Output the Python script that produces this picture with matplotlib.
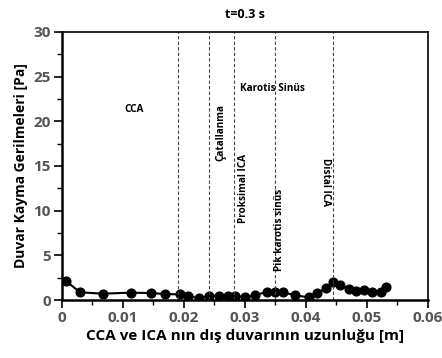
import matplotlib
matplotlib.use("Agg")
import matplotlib.pyplot as plt
from matplotlib.ticker import MultipleLocator

plt.rcParams['font.family'] = ['Open Sans', 'DejaVu Sans']

x = [0.0006, 0.0030, 0.0067, 0.0113, 0.0146, 0.0169, 0.0193, 0.0206, 0.0225,
     0.0241, 0.0257, 0.0273, 0.0284, 0.0301, 0.0317, 0.0336, 0.0349, 0.0362,
     0.0383, 0.0405, 0.0418, 0.0433, 0.0445, 0.0456, 0.0471, 0.0483, 0.0496,
     0.0509, 0.0523, 0.0532]
wss = [2.16, 0.86, 0.71, 0.82, 0.78, 0.67, 0.63, 0.45, 0.22,
       0.45, 0.49, 0.49, 0.49, 0.30, 0.52, 0.93, 0.86, 0.86,
       0.52, 0.30, 0.78, 1.31, 1.98, 1.68, 1.19, 1.05, 1.08,
       0.93, 0.86, 1.50]

vlines = [0.0191, 0.0241, 0.0283, 0.0349, 0.0445]

fig = plt.figure(figsize=(4.42, 3.58), dpi=100)
ax = fig.add_axes([0.140, 0.162, 0.828, 0.749])

ax.plot(x, wss, '-o', color='black', lw=1.5, markersize=6.3)
for v in vlines:
    ax.axvline(v, color='#444444', lw=0.8, ls=(0, (3, 2)))

ax.set_xlim(0, 0.06)
ax.set_ylim(0, 30)
ax.xaxis.set_minor_locator(MultipleLocator(0.005))
ax.yaxis.set_major_locator(MultipleLocator(5))
ax.yaxis.set_minor_locator(MultipleLocator(2.5))
ax.set_xticks([0, 0.01, 0.02, 0.03, 0.04, 0.05, 0.06])
ax.set_xticklabels(['0', '0.01', '0.02', '0.03', '0.04', '0.05', '0.06'])

ax.tick_params(axis='both', which='major', direction='out', length=6, width=1.2,
               labelsize=11, labelcolor='#555555', pad=2)
ax.tick_params(axis='both', which='minor', direction='out', length=3.5, width=1.0)
for lab in ax.get_xticklabels() + ax.get_yticklabels():
    lab.set_fontweight('bold')

for s in ['left', 'bottom']:
    ax.spines[s].set_linewidth(1.8)
for s in ['top', 'right']:
    ax.spines[s].set_linewidth(1.2)

ax.set_xlabel('CCA ve ICA nın dış duvarının uzunluğu [m]', fontsize=11,
              fontweight='bold', labelpad=3)
ax.set_ylabel('Duvar Kayma Gerilmeleri [Pa]', fontsize=10, fontweight='bold',
              labelpad=4)
ax.set_title('t=0.3 s', fontsize=9, fontweight='bold', pad=10)

fs = 7.2
ax.text(0.0118, 21.3, 'CCA', fontsize=fs, fontweight='bold', ha='center', va='center')
ax.text(0.0345, 23.7, 'Karotis Sinüs', fontsize=fs, fontweight='bold', ha='center', va='center')
ax.text(0.0261, 18.7, 'Çatallanma', fontsize=fs, fontweight='bold', ha='center', va='center', rotation=90)
ax.text(0.0298, 12.5, 'Proksimal ICA', fontsize=fs, fontweight='bold', ha='center', va='center', rotation=90)
ax.text(0.0357, 7.9, 'Pik karotis sinüs', fontsize=fs, fontweight='bold', ha='center', va='center', rotation=90)
ax.text(0.0433, 13.2, 'Distal ICA', fontsize=fs, fontweight='bold', ha='center', va='center', rotation=-90)

fig.savefig('out.png', dpi=100)
